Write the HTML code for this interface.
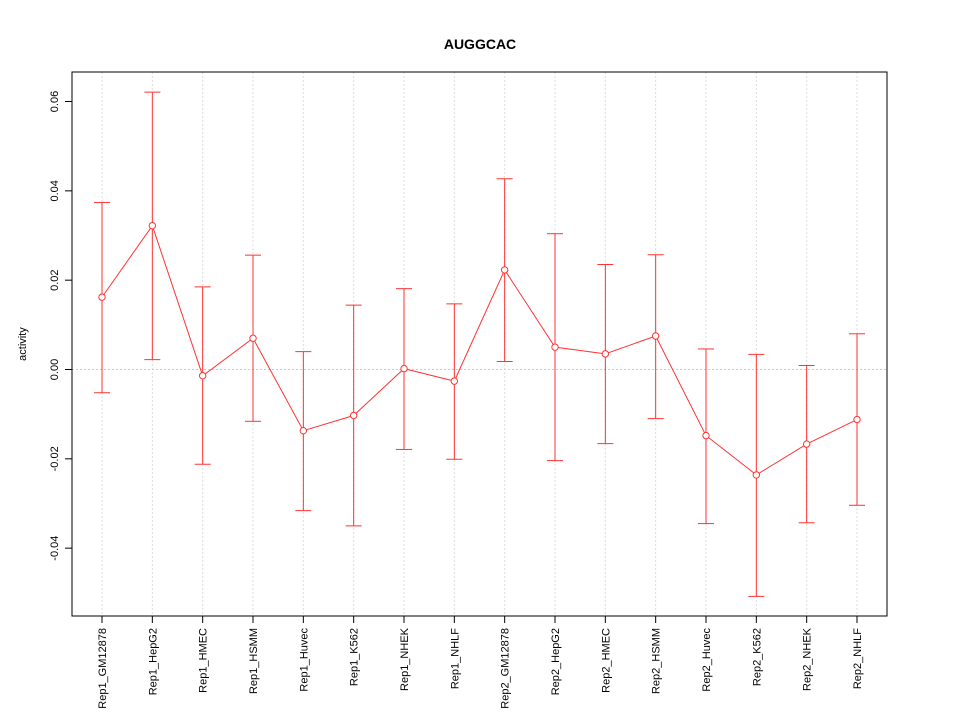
<!DOCTYPE html>
<html><head><meta charset="utf-8"><style>
body{margin:0;background:#fff;}
svg text{font-family:"Liberation Sans",sans-serif;}
</style></head><body>
<svg id="chart" width="960" height="720" xmlns="http://www.w3.org/2000/svg">
<rect width="960" height="720" fill="#fff"/>
<text x="480" y="49" text-anchor="middle" font-weight="bold" font-size="14">AUGGCAC</text>
<text transform="translate(26,344) rotate(-90)" text-anchor="middle" font-size="11">activity</text>
<g id="grid"></g><g id="axes"></g><g id="marks"></g>
<rect x="72" y="72" width="815" height="544" fill="none" stroke="#000"/>
</svg>
<script>
const categories=["Rep1_GM12878","Rep1_HepG2","Rep1_HMEC","Rep1_HSMM","Rep1_Huvec","Rep1_K562","Rep1_NHEK","Rep1_NHLF","Rep2_GM12878","Rep2_HepG2","Rep2_HMEC","Rep2_HSMM","Rep2_Huvec","Rep2_K562","Rep2_NHEK","Rep2_NHLF"];
const values=[0.0162,0.0322,-0.0014,0.0070,-0.0137,-0.0103,0.0002,-0.0026,0.0223,0.0050,0.0035,0.0075,-0.0148,-0.0236,-0.0167,-0.0112];
const upper=[0.0374,0.0621,0.0185,0.0256,0.0040,0.0144,0.0181,0.0147,0.0427,0.0304,0.0235,0.0257,0.0046,0.0034,0.0009,0.0080];
const lower=[-0.0052,0.0022,-0.0212,-0.0116,-0.0316,-0.0350,-0.0179,-0.0201,0.0018,-0.0204,-0.0166,-0.0110,-0.0345,-0.0508,-0.0343,-0.0304];
const yTicks=[-0.04,-0.02,0.00,0.02,0.04,0.06];
const yTickLabels=["-0.04","-0.02","0.00","0.02","0.04","0.06"];
const NS="http://www.w3.org/2000/svg";
function x(i){return 102+i*(857-102)/(categories.length-1);}
function y(v){return 369.5-v*4466.5;}
function mk(parent,tag,attrs){const e=document.createElementNS(NS,tag);for(const k in attrs)e.setAttribute(k,attrs[k]);document.getElementById(parent).appendChild(e);return e;}
yTicks.forEach((t,i)=>{
 const tk=mk('axes','line',{x1:65,x2:72,y1:y(t),y2:y(t),stroke:'#000'});
 
 
 const tx=mk('axes','text',{transform:`translate(58,${y(t)}) rotate(-90)`,'text-anchor':'middle','font-size':11});
 tx.textContent=yTickLabels[i];
 
 
});
categories.forEach((c,i)=>{
 const g=mk('grid','line',{x1:x(i),x2:x(i),y1:72,y2:616,stroke:'#ddd','stroke-dasharray':'2,2'});
 
 
 const tk=mk('axes','line',{x1:x(i),x2:x(i),y1:616,y2:623,stroke:'#000'});
 
 
 const tx=mk('axes','text',{transform:`translate(${x(i)+4},628) rotate(-90)`,'text-anchor':'end','font-size':11});
 tx.textContent=c;
 
 
});
const zl=mk('grid','line',{x1:72,x2:887,y1:y(0),y2:y(0),stroke:'#ccc','stroke-dasharray':'2,2'});


categories.forEach((c,i)=>{
 const e=mk('marks','line',{x1:x(i),x2:x(i),y1:y(upper[i]),y2:y(lower[i]),stroke:'#f33'});
 
 
 [upper[i],lower[i]].forEach(v=>{
  const cp=mk('marks','line',{x1:x(i)-8,x2:x(i)+8,y1:y(v),y2:y(v),stroke:'#f33'});
  
  
 });
});
const pl=mk('marks','polyline',{points:values.map((v,i)=>x(i)+','+y(v)).join(' '),fill:'none',stroke:'#f33'});


values.forEach((v,i)=>{
 const p=mk('marks','circle',{cx:x(i),cy:y(v),r:3.2,fill:'#fff',stroke:'#f33'});
 
 
});
</script>
</body></html>
